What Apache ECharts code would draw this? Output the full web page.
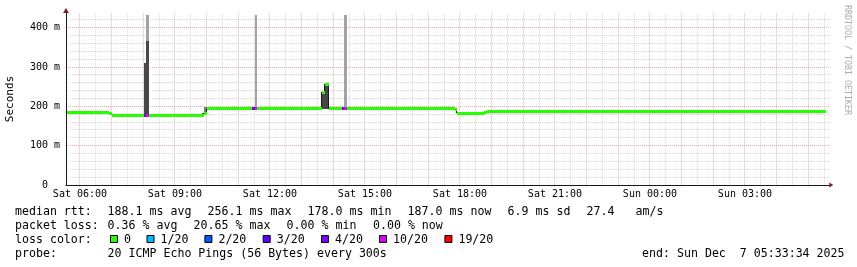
<!DOCTYPE html>
<html><head><meta charset="utf-8">
<script src="https://cdn.jsdelivr.net/npm/echarts@6/dist/echarts.min.js"></script>
<style>html,body{margin:0;padding:0;background:#fff}#c{width:857px;height:267px}</style>
</head><body><div id="c"></div>
<script>
// ---- time frame (hours since Sat 00:00) ----
const T_END = 29 + 33/60 + 34/3600;      // Sun 05:33:34
const T_START = T_END - 24;
const Y_MAX = 437.4;                      // ms (upper limit of plot)

// ---- tick labels ----
const xLabelHours = [6, 9, 12, 15, 18, 21, 24, 27];
const xLabels = ['Sat 06:00','Sat 09:00','Sat 12:00','Sat 15:00','Sat 18:00','Sat 21:00','Sun 00:00','Sun 03:00'];
const yTickValues = [0, 100, 200, 300, 400];
const yTickLabels = ['0  ', '100 m', '200 m', '300 m', '400 m'];

// ---- median rtt (ms): value holds from start time until the next start ----
const medianStart = [T_START, 6.911, 7.018, 9.933, 10.016, 13.643, 13.748, 13.864, 17.837, 17.922, 18.775, 18.860];
const medianValue = [185,     182,   178,   182,   193.5,  236,    256,    193.5,  191,    183,    185,    187.5];

// ---- smoke (ping spread): [from, to, low ms, high ms, shade] ----
const smokeBands = [
  [8.020, 8.100, 178, 310, 0],
  [8.100, 8.185, 178, 366, 0],
  [8.100, 8.185, 366, 432, 1],
  [9.850, 9.933, 178, 184, 0],
  [9.933, 10.016, 186, 199, 2],
  [11.518, 11.590, 193.5, 432, 1],
  [13.643, 13.748, 193.5, 240, 0],
  [13.748, 13.864, 193.5, 259, 0],
  [14.345, 14.430, 193.5, 432, 1]
];
const smokeShades = ['#474747', '#a3a3a3', '#7a7a7a'];

// ---- packet loss ----
const lossLabels = ['0','1/20','2/20','3/20','4/20','10/20','19/20'];
const lossColors = ['#26ff00','#00b8ff','#0059ff','#5e00ff','#7e00ff','#dd00ff','#ff0000'];
const lossSteps = [ // [from, to, loss level index]
  [8.020, 8.100, 4], [8.100, 8.185, 5],
  [11.435, 11.518, 4], [11.518, 11.590, 5],
  [14.262, 14.345, 4], [14.345, 14.430, 5]
];

// ---- legend texts ----
const statsMedian = ['188.1 ms avg','256.1 ms max','178.0 ms min','187.0 ms now','6.9 ms sd','27.4   am/s'];
const statsLoss = ['0.36 % avg','20.65 % max','0.00 % min','0.00 % now'];
const probeText = '20 ICMP Echo Pings (56 Bytes) every 300s';
const endText = 'end: Sun Dec  7 05:33:34 2025';

// ---- layout ----
const medianX = [107.6, 207.6, 307.6, 407.6, 507.6, 586.6];
const lossX = [107.6, 193.6, 286.6, 373];
const boxX = [110, 146.5, 204.4, 262.7, 321, 379, 444.4];
const rowY = [211.5, 225.5, 239.5, 253.5];
const LEG_FONT = '11.6px "DejaVu Sans Mono"';

function medianAt(t){ let v = medianValue[0]; for (let i=0;i<medianStart.length;i++){ if (medianStart[i] <= t) v = medianValue[i]; } return v; }

const gridV = []; for (let h = 6; h < T_END; h += 0.5) gridV.push([h, h % 1 === 0 ? 1 : 0]);
const gridH = []; for (let v = 0; v <= 420; v += 20) gridH.push([v, v % 100 === 0 ? 1 : 0]);

const medianRuns = medianStart.map((t, i) => [t, i + 1 < medianStart.length ? medianStart[i+1] : T_END, medianValue[i]]);
const medianSteps = medianStart.slice(1).map((t, i) => [t, medianValue[i], medianValue[i+1]]);
const lossData = lossSteps.map(s => [s[0], s[1], medianAt(s[0]), s[2]]);

const chart = echarts.init(document.getElementById('c'), null, {renderer: 'canvas'});

const texts = [];
function txt(x, y, s, extra){ texts.push(Object.assign({type:'text', x:x, y:y, silent:true,
  style:{text:s, font:LEG_FONT, fill:'#000', align:'left', textAlign:'left', verticalAlign:'middle', textVerticalAlign:'middle'}}, extra||{})); }
txt(15, rowY[0], 'median rtt:');
statsMedian.forEach((s,i)=>txt(medianX[i], rowY[0], s));
txt(15, rowY[1], 'packet loss:');
statsLoss.forEach((s,i)=>txt(lossX[i], rowY[1], s));
txt(15, rowY[2], 'loss color:');
lossLabels.forEach((s,i)=>{
  texts.push({type:'rect', silent:true, shape:{x:boxX[i]+0.5, y:Math.floor(rowY[2])-3.5, width:7, height:7},
    style:{fill:lossColors[i], stroke:'#000', lineWidth:1}});
  txt(boxX[i]+14, rowY[2], s);
});
txt(15, rowY[3], 'probe:');
txt(107.6, rowY[3], probeText);
texts.push({type:'text', x:844.5, y:rowY[3], silent:true,
  style:{text:endText, font:LEG_FONT, fill:'#000', align:'right', textAlign:'right', verticalAlign:'middle', textVerticalAlign:'middle'}});
texts.push({type:'text', x:847, y:5, rotation:-Math.PI/2, silent:true,
  style:{text:'RRDTOOL / TOBI OETIKER', font:'8.3px "DejaVu Sans Mono"', fill:'#ababab', align:'left', textAlign:'left', verticalAlign:'middle', textVerticalAlign:'middle'}});

function band(api, color){
  const a = api.coord([api.value(0), api.value(2)]);
  const b = api.coord([api.value(1), api.value(2)]);
  const x0 = Math.round(a[0]), x1 = Math.round(b[0]);
  return {type: 'rect', shape: {x: x0, y: Math.round(a[1] - 1.5), width: x1 - x0, height: 3}, style: {fill: color}};
}

const option = {
  backgroundColor: '#fff',
  animation: false,
  grid: {left: 66, top: 13, width: 760, height: 172, containLabel: false, outerBoundsMode: 'none'},
  xAxis: [{
    type: 'value', min: T_START, max: T_END, z: 5,
    axisLine: {show: true, onZero: false, lineStyle: {color: '#1a1a1a', width: 1}},
    axisTick: {show: false},
    splitLine: {show: false},
    axisLabel: {
      customValues: xLabelHours, margin: 4, color: '#000',
      fontFamily: 'DejaVu Sans Mono', fontSize: 10,
      formatter: v => { const i = xLabelHours.indexOf(Math.round(v)); return i >= 0 ? xLabels[i] : ''; }
    }
  }, {
    type: 'value', min: T_START, max: T_END, position: 'bottom', z: 6,
    axisLine: {show: true, onZero: false, symbol: ['none', 'triangle'], symbolSize: [5, 4], symbolOffset: [0, 5.3],
      lineStyle: {color: '#7f1f1f', width: 0}},
    axisTick: {show: false}, axisLabel: {show: false}, splitLine: {show: false}
  }],
  yAxis: [{
    type: 'value', min: 0, max: Y_MAX, z: 5,
    name: 'Seconds', nameLocation: 'middle', nameRotate: 90, nameGap: 50,
    nameTextStyle: {fontFamily: 'DejaVu Sans Mono', fontSize: 11, color: '#000'},
    axisLine: {show: true, onZero: false, lineStyle: {color: '#1a1a1a', width: 1}},
    axisTick: {show: false},
    splitLine: {show: false},
    axisLabel: {
      customValues: yTickValues, margin: 6, color: '#000',
      fontFamily: 'DejaVu Sans Mono', fontSize: 10,
      formatter: v => { const i = yTickValues.indexOf(Math.round(v)); return i >= 0 ? yTickLabels[i] : ''; }
    }
  }, {
    type: 'value', min: 0, max: Y_MAX, position: 'left', z: 6,
    axisLine: {show: true, onZero: false, symbol: ['none', 'triangle'], symbolSize: [6, 5], symbolOffset: [0, 2.5],
      lineStyle: {color: '#7f1f1f', width: 0}},
    axisTick: {show: false}, axisLabel: {show: false}, splitLine: {show: false}
  }],
  graphic: {elements: texts},
  series: [
    { // vertical grid
      type: 'custom', name: 'gridV', silent: true, z: 1, data: gridV, encode: {x: 0, y: 1},
      renderItem: (p, api) => {
        const h = api.value(0);
        const b = api.coord([h, 0]), t = api.coord([h, Y_MAX]);
        const x = Math.floor(b[0]) + 0.5;
        return {type: 'line', shape: {x1: x, y1: Math.round(t[1]) + 0.5, x2: x, y2: b[1] + 2},
          style: {stroke: api.value(1) ? '#e8abab' : '#d6d6d6', lineWidth: 1, lineDash: [1, 1]}};
      }
    },
    { // horizontal grid
      type: 'custom', name: 'gridH', silent: true, z: 1, data: gridH, encode: {x: 0, y: 0},
      renderItem: (p, api) => {
        const v = api.value(0);
        const a = api.coord([T_START, v]), b = api.coord([T_END, v]);
        const y = Math.floor(a[1]) + 0.5;
        if (v === 0) {
          return {type: 'line', shape: {x1: b[0], y1: y, x2: b[0] + 4, y2: y}, style: {stroke: '#1a1a1a', lineWidth: 1}};
        }
        return {type: 'line', shape: {x1: a[0], y1: y, x2: b[0] + 3, y2: y},
          style: {stroke: api.value(1) ? '#e8abab' : '#d6d6d6', lineWidth: 1, lineDash: [1, 1]}};
      }
    },
    { // smoke
      type: 'custom', name: 'smoke', silent: true, z: 2, data: smokeBands, encode: {x: [0, 1], y: [2, 3]},
      renderItem: (p, api) => {
        const a = api.coord([api.value(0), api.value(3)]);
        const b = api.coord([api.value(1), api.value(2)]);
        const x0 = Math.round(a[0]), x1 = Math.round(b[0]);
        const y0 = Math.round(a[1]), y1 = Math.round(b[1]);
        return {type: 'rect', shape: {x: x0, y: y0, width: x1 - x0, height: y1 - y0},
          style: {fill: smokeShades[api.value(4)]}};
      }
    },
    { // thin dark median connectors (vertical steps)
      type: 'custom', name: 'medianSteps', silent: true, z: 2, data: medianSteps, encode: {x: 0, y: [1, 2]},
      renderItem: (p, api) => {
        const a = api.coord([api.value(0), api.value(1)]);
        const b = api.coord([api.value(0), api.value(2)]);
        const x = Math.round(a[0]) - 0.5;
        return {type: 'line', shape: {x1: x, y1: Math.round(a[1]), x2: x, y2: Math.round(b[1])},
          style: {stroke: '#1c1c1c', lineWidth: 1}};
      }
    },
    { // median band (loss 0)
      type: 'custom', name: 'medianBand', silent: true, z: 3, data: medianRuns, encode: {x: [0, 1], y: 2},
      renderItem: (p, api) => band(api, lossColors[0])
    },
    { // median band, lossy steps
      type: 'custom', name: 'loss', silent: true, z: 4, data: lossData, encode: {x: [0, 1], y: 2},
      renderItem: (p, api) => band(api, lossColors[api.value(3)])
    }
  ]
};
chart.setOption(option);
</script></body></html>
